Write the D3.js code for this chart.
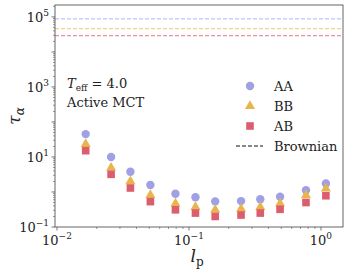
<!DOCTYPE html>
<html>
<head>
<meta charset="utf-8">
<script src="https://cdn.jsdelivr.net/npm/d3@7"></script>
<style>
  body { margin: 0; background: #fff; }
</style>
</head>
<body>
<div id="chart"></div>
<script>
// persistence length values (x)
const lp = [0.0165, 0.0257, 0.036, 0.051, 0.079, 0.112, 0.158, 0.248, 0.347, 0.49, 0.77, 1.09]

// relaxation times per pair type
const tauAA = [45, 10, 3.8, 1.58, 0.89, 0.71, 0.54, 0.55, 0.62, 0.73, 1.12, 1.75]
const tauBB = [23.5, 4.9, 2.0, 0.82, 0.47, 0.37, 0.31, 0.33, 0.37, 0.47, 0.8, 1.25]
const tauAB = [15.1, 3.2, 1.3, 0.53, 0.31, 0.25, 0.2, 0.22, 0.25, 0.32, 0.5, 0.78]

// Brownian limits (horizontal dashed lines)
const brownian = [88000, 46000, 29000]

const seriesNames = ["AA", "BB", "AB"]
const colors = ["#a0a0e4", "#e8b44c", "#dc5e6e"]
const lineColors = ["#b4b4ec", "#efc66a", "#e67888"]

const width = 349, height = 271
const margin = {top: 5, right: 6, bottom: 44, left: 55}
const w = width - margin.left - margin.right
const h = height - margin.top - margin.bottom
const serif = "'DejaVu Serif', serif"

const svg = d3.select("#chart").append("svg")
    .attr("width", width).attr("height", height)
    .attr("font-family", serif)
    .style("font-family", serif)

const g = svg.append("g").attr("transform", `translate(${margin.left},${margin.top})`)

const x = d3.scaleLog().domain([Math.pow(10, -2.015), Math.pow(10, 0.167)]).range([0, w])
const y = d3.scaleLog().domain([0.1, Math.pow(10, 5.34)]).range([h, 0])

// brownian lines
brownian.forEach((b, i) => {
    g.append("line")
        .attr("x1", 0).attr("x2", w)
        .attr("y1", y(b)).attr("y2", y(b))
        .attr("stroke", lineColors[i])
        .attr("stroke-width", 1)
        .attr("stroke-dasharray", "4,2")
})

// minor/major ticks
function logTicks(lo, hi) {
    const out = []
    for (let e = lo; e <= hi; e++) {
        for (let k = 1; k < 10; k++) out.push({v: k * Math.pow(10, e), e: e, k: k})
    }
    return out
}

const xt = logTicks(-3, 1).filter(t => t.v >= x.domain()[0] && t.v <= x.domain()[1])
const yt = logTicks(-1, 5).filter(t => t.v >= y.domain()[0] && t.v <= y.domain()[1])

xt.forEach(t => {
    const major = t.k === 1
    g.append("line")
        .attr("x1", x(t.v)).attr("x2", x(t.v))
        .attr("y1", h).attr("y2", h + (major ? 3.5 : 2))
        .attr("stroke", "#555").attr("stroke-width", major ? 0.8 : 0.6)
    if (major) {
        const tx = g.append("text")
            .attr("x", x(t.v)).attr("y", h + 18)
            .attr("text-anchor", "middle")
            .attr("font-size", 13).attr("fill", "#222")
        tx.append("tspan").text("10")
        tx.append("tspan").attr("dy", -6).attr("font-size", 9).text(t.e < 0 ? "\u2212" + (-t.e) : t.e)
    }
})

yt.forEach(t => {
    const major = t.k === 1
    g.append("line")
        .attr("x1", 0).attr("x2", major ? -3.5 : -2)
        .attr("y1", y(t.v)).attr("y2", y(t.v))
        .attr("stroke", "#555").attr("stroke-width", major ? 0.8 : 0.6)
    if (major && (t.e % 2 !== 0)) {
        const tx = g.append("text")
            .attr("x", -6).attr("y", y(t.v) + 5)
            .attr("text-anchor", "end")
            .attr("font-size", 13).attr("fill", "#222")
        tx.append("tspan").text("10")
        tx.append("tspan").attr("dy", -6).attr("font-size", 9).text(t.e < 0 ? "\u2212" + (-t.e) : t.e)
    }
})

// frame
g.append("rect")
    .attr("width", w).attr("height", h)
    .attr("fill", "none").attr("stroke", "#555").attr("stroke-width", 0.9)

// markers
const tri = d3.symbol().type(d3.symbolTriangle).size(44)

g.selectAll(".aa").data(lp).enter().append("circle")
    .attr("cx", d => x(d)).attr("cy", (d, i) => y(tauAA[i]))
    .attr("r", 4.2).attr("fill", colors[0])

g.selectAll(".bb").data(lp).enter().append("path")
    .attr("d", tri)
    .attr("transform", (d, i) => `translate(${x(d)},${y(tauBB[i])})`)
    .attr("fill", colors[1])

g.selectAll(".ab").data(lp).enter().append("rect")
    .attr("x", d => x(d) - 3.8).attr("y", (d, i) => y(tauAB[i]) - 3.8)
    .attr("width", 7.6).attr("height", 7.6)
    .attr("fill", colors[2])

// annotations
const t1 = g.append("text").attr("x", 12).attr("y", 83).attr("font-size", 13).attr("fill", "#222")
t1.append("tspan").attr("font-style", "italic").text("T")
t1.append("tspan").attr("dy", 3).attr("font-size", 9).text("eff")
t1.append("tspan").attr("dy", -3).text(" = 4.0")

g.append("text").attr("x", 12).attr("y", 102).attr("font-size", 13).attr("fill", "#222").text("Active MCT")

// legend
const lx = 195, ly = [81, 101, 121, 141]
g.append("circle").attr("cx", lx).attr("cy", ly[0]).attr("r", 4.2).attr("fill", colors[0])
g.append("path").attr("d", tri).attr("transform", `translate(${lx},${ly[1]})`).attr("fill", colors[1])
g.append("rect").attr("x", lx - 3.8).attr("y", ly[2] - 3.8).attr("width", 7.6).attr("height", 7.6).attr("fill", colors[2])
g.append("line").attr("x1", lx - 14).attr("x2", lx + 13).attr("y1", ly[3]).attr("y2", ly[3])
    .attr("stroke", "#111").attr("stroke-width", 1).attr("stroke-dasharray", "4,2")

const legendLabels = seriesNames.concat(["Brownian"])
legendLabels.forEach((s, i) => {
    g.append("text").attr("x", lx + 24).attr("y", ly[i] + 5).attr("font-size", 13).attr("fill", "#222").text(s)
})

// axis labels
const xl = svg.append("text").attr("x", 197).attr("y", 262).attr("font-size", 17).attr("text-anchor", "middle").attr("fill", "#222")
xl.append("tspan").attr("font-style", "italic").text("l")
xl.append("tspan").attr("dy", 4).attr("font-size", 12).text("p")

const yl = svg.append("text").attr("transform", "translate(20,116) rotate(-90)").attr("font-size", 17).attr("text-anchor", "middle").attr("fill", "#222")
yl.append("tspan").attr("font-style", "italic").text("\u03C4")
yl.append("tspan").attr("dy", 4).attr("font-size", 12).attr("font-style", "italic").text("\u03B1")
</script>
</body>
</html>
